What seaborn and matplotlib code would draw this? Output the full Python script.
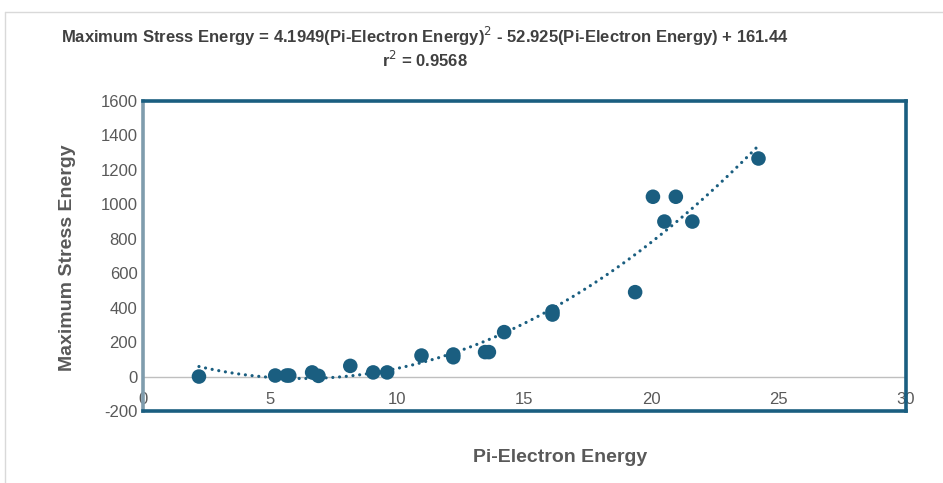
import matplotlib
matplotlib.use("Agg")
import matplotlib.pyplot as plt
import seaborn as sns
import pandas as pd
from matplotlib.lines import Line2D

# Data
pi_energy = [2.2, 5.2, 5.65, 5.75, 6.65, 6.9, 8.15, 9.05, 9.6, 10.95, 12.2, 12.2,
             13.45, 13.6, 14.2, 16.1, 16.1, 19.35, 20.05, 20.5, 20.95, 21.6, 24.2]
stress_energy = [0, 6, 6, 6, 24, 4, 62, 24, 24, 122, 128, 112,
                 142, 142, 258, 378, 360, 490, 1044, 900, 1044, 900, 1266]

x_ticks = [0, 5, 10, 15, 20, 25, 30]
y_ticks = [-200, 0, 200, 400, 600, 800, 1000, 1200, 1400, 1600]

df = pd.DataFrame({"Pi-Electron Energy": pi_energy,
                   "Maximum Stress Energy": stress_energy})

sns.set_style("white")
plt.rcParams["font.family"] = ["Liberation Sans", "DejaVu Sans"]
plt.rcParams["axes.unicode_minus"] = False

color = "#1a5e80"
fig = plt.figure(figsize=(9.43, 4.83), dpi=100)
ax = fig.add_axes([143 / 943, 1 - 411 / 483, (906 - 143) / 943, (411 - 101) / 483])

# Quadratic trendline, fitted by seaborn
sns.regplot(data=df, x="Pi-Electron Energy", y="Maximum Stress Energy", order=2,
            ci=None, truncate=True, scatter=False, ax=ax,
            line_kws=dict(color=color, linestyle=(0, (0.01, 2.1)), linewidth=2.3,
                          dash_capstyle="round"))
sns.scatterplot(data=df, x="Pi-Electron Energy", y="Maximum Stress Energy",
                color=color, s=110, edgecolor="none", ax=ax, zorder=3)

ax.axhline(0, color="#bfbfbf", linewidth=1, zorder=0)
ax.set_xlim(0, 30)
ax.set_ylim(-200, 1600)
ax.set_xticks(x_ticks)
ax.set_yticks(y_ticks)
ax.set_xlabel("")
ax.set_ylabel("")
ax.tick_params(axis="x", length=0, pad=-14, labelsize=12, labelcolor="#595959")
ax.tick_params(axis="y", length=0, pad=4, labelsize=12, labelcolor="#595959")

for side in ["top", "bottom", "right"]:
    ax.spines[side].set_color(color)
    ax.spines[side].set_linewidth(2.6)
ax.spines["left"].set_color("#7f9cad")
ax.spines["left"].set_linewidth(2.6)

# Title and axis titles
fig.text(425 / 943, 1 - 36 / 483,
         "Maximum Stress Energy = 4.1949(Pi-Electron Energy)$^2$ - 52.925(Pi-Electron Energy) + 161.44",
         ha="center", va="center", fontsize=12, fontweight="bold", color="#404040")
fig.text(425 / 943, 1 - 60 / 483, "r$^2$ = 0.9568",
         ha="center", va="center", fontsize=12, fontweight="bold", color="#404040")
fig.text(68 / 943, 1 - 258 / 483, "Maximum Stress Energy", rotation=90,
         ha="center", va="center", fontsize=14, fontweight="bold", color="#595959")
fig.text(560 / 943, 1 - 457 / 483, "Pi-Electron Energy",
         ha="center", va="center", fontsize=14, fontweight="bold", color="#595959")

# faint chart-area border
fig.add_artist(Line2D([5 / 943, 1], [1 - 12 / 483] * 2, color="#d9d9d9", linewidth=1))
fig.add_artist(Line2D([5 / 943] * 2, [0, 1 - 12 / 483], color="#d9d9d9", linewidth=1))

fig.savefig("out.png", dpi=100)
